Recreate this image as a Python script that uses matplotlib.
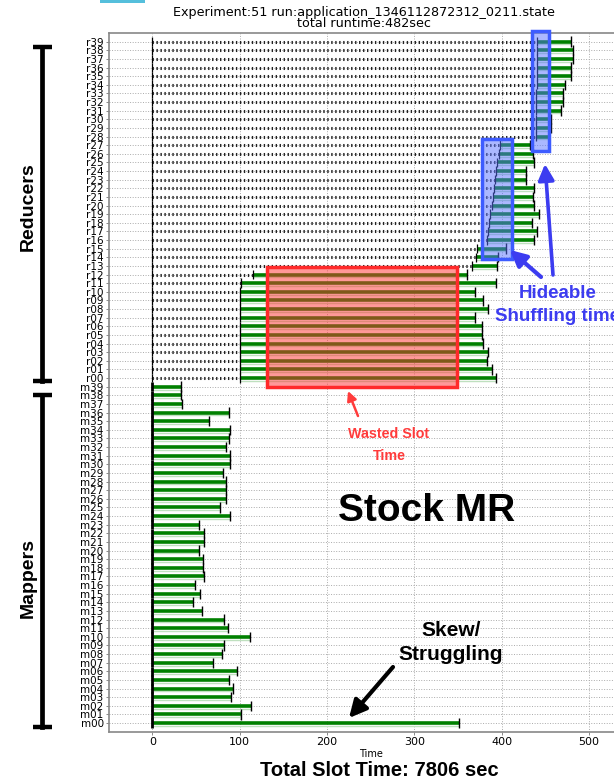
import matplotlib
matplotlib.use("Agg")
import matplotlib.pyplot as plt
from matplotlib.patches import Rectangle, FancyArrowPatch
from matplotlib.lines import Line2D

# ---------------- data ----------------
mapper_labels = ["m%02d" % i for i in range(40)]
reducer_labels = ["r%02d" % i for i in range(40)]

mapper_start = [1, 1, 1, 1, 1, 1, 1, 1, 1, 1,
                1, 1, 1, 1, 1, 1, 1, 1, 1, 1,
                1, 1, 1, 1, 1, 1, 1, 1, 1, 1,
                1, 1, 1, 1, 1, 1, 1, 1, 1, 1]
mapper_end = [351, 102, 113, 90, 92, 88, 96.5, 69, 80, 82,
              112, 87, 82, 57, 47, 54.5, 49, 59, 58, 58.5,
              54, 59, 59.5, 54, 89.5, 78, 84, 84, 84, 81.5,
              89.5, 88.5, 84, 88, 89, 65.5, 88, 34, 32.5, 32.5]

reducer_start = [100, 100, 100, 100, 100, 100, 100, 100, 100, 100,
                 100, 101.5, 115.6, 365.6, 370.6, 372, 383, 384.5, 386, 387,
                 388.5, 390, 391, 392.5, 394, 395, 396.5, 398, 439, 439,
                 439, 439, 439, 439, 441, 441, 441, 441, 441, 441]
reducer_end = [393.5, 389, 383, 384.5, 379, 378, 378, 369.5, 384.5, 379,
               369.5, 394, 360.5, 395, 395.5, 405, 437, 440, 434.5, 442.5,
               437, 436.5, 437, 428.5, 428.5, 437, 435.5, 432, 454, 457,
               457, 468, 470, 470.5, 472.5, 479, 479, 482, 482, 479]

x_ticks = [0, 100, 200, 300, 400, 500]

title_text = ("Experiment:51 run:application_1346112872312_0211.state\n"
              "total runtime:482sec")
total_text = "Total Slot Time: 7806 sec"

# ---------------- figure ----------------
W, H = 614, 784
fig = plt.figure(figsize=(W / 100, H / 100), dpi=100)


def fx(px):
    return px / W


def fy(py):
    return 1 - py / H


ax = fig.add_axes([108.6 / W, 1 - 731.7 / H, 524 / W, 698.7 / H])
ax.set_xlim(-50, 550)
ax.set_ylim(-1, 80)

labels = mapper_labels + reducer_labels
ax.set_yticks(range(len(labels)))
ax.set_yticklabels(labels, fontsize=7.5)
ax.set_xticks(x_ticks)
ax.set_xticklabels([str(t) for t in x_ticks], fontsize=8)
ax.set_xlabel("Time", fontsize=7, labelpad=2)
ax.tick_params(axis="both", length=2, width=0.6, color="#777777", pad=1.5)

ax.grid(True, linestyle=":", color="#aaaaaa", linewidth=0.7)
ax.set_axisbelow(True)
for s in ax.spines.values():
    s.set_color("#888888")
    s.set_linewidth(1.2)

# mappers
for i in range(40):
    y = i
    ax.plot([mapper_start[i], mapper_end[i]], [y - 0.33, y - 0.33],
            color="#bfe0bf", lw=1.0, solid_capstyle="butt", zorder=2)
    ax.plot([mapper_start[i], mapper_end[i]], [y, y], color="#008000",
            lw=2.6, solid_capstyle="butt", zorder=3)
    ax.vlines(0, y - 0.55, y + 0.55, color="black", lw=2.0, zorder=4)
    ax.vlines(mapper_end[i], y - 0.6, y + 0.6, color="black", lw=1.0, zorder=4)

# reducers
for i in range(40):
    y = 40 + i
    ax.plot([0, reducer_start[i]], [y, y], color="#222222", lw=2.2,
            linestyle=(0, (0.45, 0.85)), dash_capstyle="butt", zorder=3)
    ax.plot([reducer_start[i], reducer_end[i]], [y - 0.33, y - 0.33],
            color="#bfe0bf", lw=1.0, solid_capstyle="butt", zorder=2)
    ax.plot([reducer_start[i], reducer_end[i]], [y, y], color="#008000",
            lw=2.6, solid_capstyle="butt", zorder=3)
    ax.vlines(0, y - 0.5, y + 0.5, color="black", lw=0.9, zorder=4)
    ax.vlines(reducer_start[i], y - 0.55, y + 0.55, color="black", lw=0.9, zorder=4)
    ax.vlines(reducer_end[i], y - 0.6, y + 0.6, color="black", lw=1.0, zorder=4)

# highlight boxes
ax.add_patch(Rectangle((131.3, 39.0), 348.8 - 131.3, 52.9 - 39.0,
                       facecolor=(1.0, 0.2, 0.2, 0.5), edgecolor="#ff2a2a",
                       lw=2.5, zorder=6))
ax.add_patch(Rectangle((378, 53.8), 411.4 - 378, 67.7 - 53.8,
                       facecolor=(0.35, 0.45, 1.0, 0.5), edgecolor="#3d5cff",
                       lw=2.5, zorder=6))
ax.add_patch(Rectangle((434.3, 66.3), 454.5 - 434.3, 80.2 - 66.3,
                       facecolor=(0.35, 0.45, 1.0, 0.5), edgecolor="#3d5cff",
                       lw=2.5, zorder=6, clip_on=False))

# ---------------- titles / texts ----------------
fig.text(fx(364), fy(18), title_text, ha="center", va="center",
         fontsize=9.2, linespacing=0.88, multialignment="center")
fig.text(fx(379), fy(771), total_text, ha="center", va="center",
         fontsize=14.5, fontweight="bold", family="Liberation Sans")

fig.add_artist(Rectangle((fx(100), fy(3)), fx(45), 3 / H,
                         transform=fig.transFigure, color="#55bfdc", lw=0))

ann_font = "Liberation Sans"
fig.text(fx(427), fy(511), "Stock MR", ha="center", va="center",
         fontsize=28, fontweight="bold", family=ann_font)
fig.text(fx(451), fy(630), "Skew/", ha="center", va="center",
         fontsize=15, fontweight="bold", family=ann_font)
fig.text(fx(451), fy(655), "Struggling", ha="center", va="center",
         fontsize=15, fontweight="bold", family=ann_font)
fig.text(fx(389), fy(434), "Wasted Slot", ha="center", va="center",
         fontsize=10.3, fontweight="bold", family=ann_font, color="#ff3b3b")
fig.text(fx(389), fy(456), "Time", ha="center", va="center",
         fontsize=10.3, fontweight="bold", family=ann_font, color="#ff3b3b")
fig.text(fx(557.5), fy(294), "Hideable", ha="center", va="center",
         fontsize=13.5, fontweight="bold", family=ann_font, color="#3c3cf0")
fig.text(fx(557.5), fy(316), "Shuffling time", ha="center", va="center",
         fontsize=13.5, fontweight="bold", family=ann_font, color="#3c3cf0")

fig.text(fx(28), fy(207), "Reducers", ha="center", va="center", rotation=90,
         fontsize=14, fontweight="bold", family=ann_font)
fig.text(fx(28), fy(578), "Mappers", ha="center", va="center", rotation=90,
         fontsize=14, fontweight="bold", family=ann_font)

# brackets
for (y0, y1) in [(47, 381), (395, 727)]:
    fig.add_artist(Line2D([fx(42), fx(42)], [fy(y0), fy(y1)], lw=3.4,
                          color="black", transform=fig.transFigure))
    for yy in (y0, y1):
        fig.add_artist(Line2D([fx(32.5), fx(52)], [fy(yy), fy(yy)], lw=3.2,
                              color="black", transform=fig.transFigure,
                              solid_capstyle="butt"))


# arrows
def arrow(p0, p1, color, lw, ms):
    fig.add_artist(FancyArrowPatch((fx(p0[0]), fy(p0[1])), (fx(p1[0]), fy(p1[1])),
                                   transform=fig.transFigure, arrowstyle="-|>",
                                   mutation_scale=ms, lw=lw, color=color,
                                   shrinkA=0, shrinkB=0))


arrow((358, 416), (348, 391), "#ff3b3b", 1.8, 14)
arrow((541, 277), (510, 250), "#3c3cf0", 3.0, 24)
arrow((553, 275), (545, 164), "#3c3cf0", 2.6, 24)
arrow((393, 667), (349, 718), "black", 3.0, 26)

fig.savefig("out.png", dpi=100)
